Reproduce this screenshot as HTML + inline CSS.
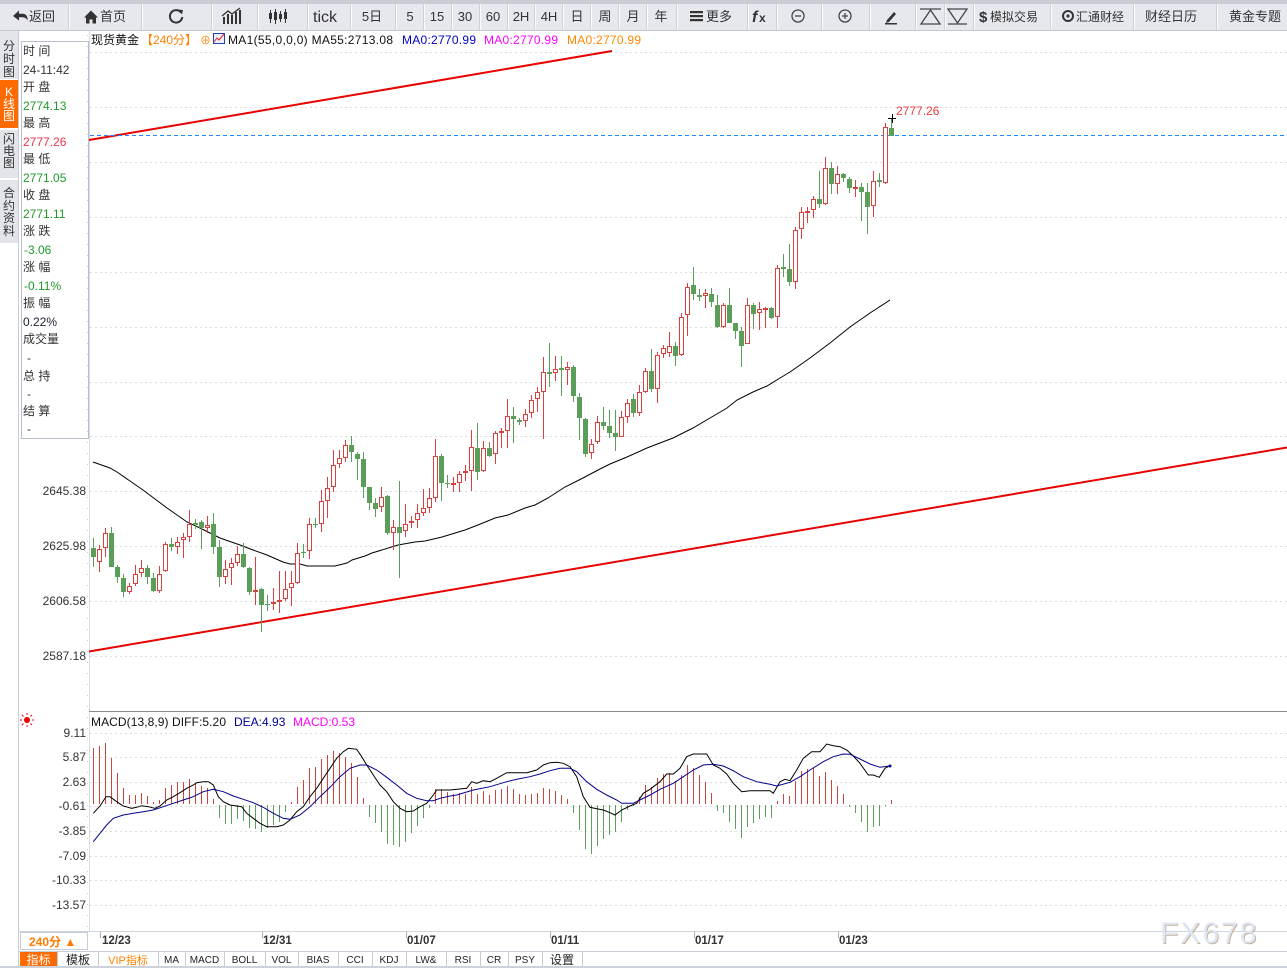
<!DOCTYPE html>
<html><head><meta charset="utf-8"><style>
html,body{margin:0;padding:0;background:#fff;width:1287px;height:968px;overflow:hidden}
svg{display:block}
text{font-family:"Liberation Sans","Noto Sans CJK SC",sans-serif}
</style></head><body>
<svg width="1287" height="968" viewBox="0 0 1287 968" xmlns="http://www.w3.org/2000/svg">
<!-- toolbar -->
<rect x="0" y="0" width="1287" height="31" fill="#e7e8ee"/>
<rect x="0" y="0" width="1287" height="4" fill="#c9ccd2"/>
<rect x="0" y="30" width="1287" height="1" fill="#c4c8d0"/>
<g stroke="#fbfbfd" stroke-width="1">
<path d="M69.5 4V30M142.5 4V30M212.5 4V30M258.5 4V30M308.5 4V30M351.5 4V30M396.5 4V30M424.5 4V30M452.5 4V30M480.5 4V30M508.5 4V30M535.5 4V30M563.5 4V30M591.5 4V30M619.5 4V30M647.5 4V30M677.5 4V30M748.5 4V30M777.5 4V30M822.5 4V30M870.5 4V30M916.5 4V30M945.5 4V30M974.5 4V30M1051.5 4V30M1134.5 4V30M1217.5 4V30"/>
</g>
<g stroke="#cdd0d8" stroke-width="1">
<path d="M68.5 4V30M141.5 4V30M211.5 4V30M257.5 4V30M307.5 4V30M350.5 4V30M395.5 4V30M423.5 4V30M451.5 4V30M479.5 4V30M507.5 4V30M534.5 4V30M562.5 4V30M590.5 4V30M618.5 4V30M646.5 4V30M676.5 4V30M747.5 4V30M776.5 4V30M821.5 4V30M869.5 4V30M915.5 4V30M944.5 4V30M973.5 4V30M1050.5 4V30M1133.5 4V30M1216.5 4V30"/>
</g>
<g fill="#333">
<path d="M13 16l6-5.5v3.2h3.5c3 0 5 2 5 5.3v1.5c-1-2-2.8-3.2-5-3.2h-3.5v3.2z"/>
<path d="M84 17.5l7-7 7 7h-2v6h-3.5v-4h-3v4H86v-6z"/>
</g>
<g font-size="13" fill="#333">
<text x="29" y="21">返回</text>
<text x="100" y="21">首页</text>
</g>
<g fill="none" stroke="#333" stroke-width="2">
<path d="M181 12.5a6.2 6.2 0 1 0 1.3 4.5"/>
</g>
<path d="M178 9.5l5 0.5-1 4.5z" fill="#333"/>
<g fill="#333">
<rect x="223" y="17" width="2" height="7"/><rect x="227" y="14" width="2" height="10"/><rect x="231" y="15" width="2" height="9"/><rect x="235" y="12" width="2" height="12"/><rect x="239" y="10" width="2" height="14"/>
</g>
<path d="M222 16l6-5 4 3 8-6" stroke="#333" stroke-width="1.3" fill="none"/>
<g stroke="#333" stroke-width="1"><path d="M270.5 10V23M275.5 9V24M280.5 11V22M285.5 9V23"/></g>
<g fill="#333"><rect x="269" y="13" width="3" height="6"/><rect x="274" y="12" width="3" height="8"/><rect x="279" y="14" width="3" height="5"/><rect x="284" y="12" width="3" height="7"/></g>
<g font-size="13" fill="#333" text-anchor="middle">
<text x="325" y="22" font-size="16">tick</text>
<text x="372" y="21">5日</text>
<text x="410" y="21">5</text>
<text x="437" y="21">15</text>
<text x="465" y="21">30</text>
<text x="493" y="21">60</text>
<text x="521" y="21">2H</text>
<text x="549" y="21">4H</text>
<text x="577" y="21">日</text>
<text x="605" y="21">周</text>
<text x="633" y="21">月</text>
<text x="661" y="21">年</text>
<text x="719" y="21">更多</text>
<text x="1171" y="21">财经日历</text>
<text x="1255" y="21">黄金专题</text>
</g>
<g fill="#333"><rect x="690" y="11" width="13" height="2.2"/><rect x="690" y="15" width="13" height="2.2"/><rect x="690" y="19" width="13" height="2.2"/></g>
<text x="752" y="22" font-size="16" font-style="italic" font-weight="bold" fill="#333" font-family="'Liberation Serif',serif">f</text>
<text x="759" y="22" font-size="12" font-weight="bold" fill="#333">x</text>
<g fill="none" stroke="#444" stroke-width="1.3">
<circle cx="798" cy="16" r="6"/><path d="M795 16h6"/>
<circle cx="845" cy="16" r="6"/><path d="M842 16h6M845 13v6"/>
<path d="M920 9h21M921 24h19l-9.5-14z"/>
<path d="M948 9h19l-9.5 14zM948 24h19"/>
</g>
<path d="M887 20l7-8 2 2-7 8-3 1z" fill="#333"/>
<rect x="885" y="23" width="12" height="1.5" fill="#333"/>
<text x="979" y="22" font-size="15" font-weight="bold" fill="#333">$</text>
<text x="990" y="21" font-size="12" fill="#333">模拟交易</text>
<circle cx="1068" cy="16" r="5" fill="none" stroke="#333" stroke-width="2"/>
<circle cx="1068" cy="16" r="1.6" fill="#333"/>
<text x="1076" y="21" font-size="12" fill="#333">汇通财经</text>

<!-- left sidebar -->
<rect x="0" y="31" width="18" height="48" fill="#e3e5ea"/>
<rect x="0" y="80" width="18" height="48" fill="#ff6a00"/>
<rect x="0" y="130" width="18" height="48" fill="#e3e5ea"/>
<rect x="0" y="180" width="18" height="63" fill="#e3e5ea"/>
<rect x="18" y="31" width="1" height="937" fill="#c8ccd4"/>
<g font-size="12" fill="#333" text-anchor="middle">
<text x="9" y="50">分</text><text x="9" y="63">时</text><text x="9" y="76">图</text>
<text x="9" y="96" fill="#fff" font-family="'Liberation Serif',serif">K</text><text x="9" y="108" fill="#fff">线</text><text x="9" y="120" fill="#fff">图</text>
<text x="9" y="143">闪</text><text x="9" y="155">电</text><text x="9" y="167">图</text>
<text x="9" y="197">合</text><text x="9" y="210">约</text><text x="9" y="222">资</text><text x="9" y="235">料</text>
</g>

<!-- info panel -->
<rect x="21.5" y="41.5" width="67" height="397" fill="#fff" stroke="#b8c0cc"/>
<g font-size="12" fill="#333">
<text x="23" y="55">时 间</text>
<text x="23" y="74">24-11:42</text>
<text x="23" y="91">开 盘</text>
<text x="23" y="110" fill="#1f9a2a">2774.13</text>
<text x="23" y="127">最 高</text>
<text x="23" y="146" fill="#e8344a">2777.26</text>
<text x="23" y="163">最 低</text>
<text x="23" y="182" fill="#1f9a2a">2771.05</text>
<text x="23" y="199">收 盘</text>
<text x="23" y="218" fill="#1f9a2a">2771.11</text>
<text x="23" y="235">涨 跌</text>
<text x="24" y="254" fill="#1f9a2a">-3.06</text>
<text x="23" y="271">涨 幅</text>
<text x="24" y="290" fill="#1f9a2a">-0.11%</text>
<text x="23" y="307">振 幅</text>
<text x="23" y="326" fill="#223">0.22%</text>
<text x="23" y="343">成交量</text>
<text x="27" y="362">-</text>
<text x="23" y="380">总 持</text>
<text x="27" y="398">-</text>
<text x="23" y="415">结 算</text>
<text x="27" y="433">-</text>
</g>

<!-- header -->
<g font-size="12">
<text x="91" y="44" fill="#111">现货黄金</text>
<text x="141" y="44" fill="#ff8000">【240分】</text>
<text x="200" y="44" fill="#ff8000" font-size="11">⊕</text>
<rect x="213.5" y="33.5" width="11" height="10" fill="#eef" stroke="#2244aa"/>
<path d="M214 42l3-4 2 2 5-6" stroke="#d22" fill="none"/>
<text x="228" y="44" fill="#111" textLength="165">MA1(55,0,0,0) MA55:2713.08</text>
<text x="402" y="44" fill="#0000cc" textLength="74">MA0:2770.99</text>
<text x="484" y="44" fill="#ff00ff" textLength="74">MA0:2770.99</text>
<text x="567" y="44" fill="#ff8800" textLength="74">MA0:2770.99</text>
</g>

<!-- main axis and grid -->
<rect x="89" y="31" width="1" height="900" fill="#d6dae2"/>
<path d="M87.5 35V930" stroke="#c8ccd4" stroke-dasharray="1 10"/>
<g stroke="#dcdcdc" stroke-dasharray="2 3" stroke-width="1">
<path d="M90 52.5H1287M90 107.5H1287M90 162.5H1287M90 217.5H1287M90 272.5H1287M90 327.5H1287M90 382.5H1287M90 436.5H1287M90 491.5H1287M90 546.5H1287M90 601.5H1287M90 656.5H1287"/>
<path d="M90 733.5H1287M90 757.5H1287M90 782.5H1287M90 806.5H1287M90 831.5H1287M90 856.5H1287M90 880.5H1287M90 905.5H1287"/>
</g>
<g font-size="12" fill="#333" text-anchor="end">
<text x="86" y="495">2645.38</text>
<text x="86" y="550">2625.98</text>
<text x="86" y="605">2606.58</text>
<text x="86" y="660">2587.18</text>
</g>

<!-- trend lines -->
<path d="M89 140L612 51" stroke="#e80000" stroke-width="2" fill="none"/>
<path d="M89 651.5L1287 447.5" stroke="#e80000" stroke-width="2" fill="none"/>
<!-- price line -->
<path d="M90 135.5H1287" stroke="#1a8cff" stroke-width="1" stroke-dasharray="4 3"/>

<!-- MA55 -->
<polyline fill="none" stroke="#000" stroke-width="1" points="93,462 110,468 117,472 143,490 167,508 187,522 200,528 220,538 240,545 253,550 267,555 283,562 290,564 300,564 307,566 335,566 347,563 352,560 365,556 372,553 398,545 415,542 425,541 442,537 465,530 478,525 495,518 508,515 525,508 535,505 548,498 565,487 583,478 600,469 610,464 627,457 647,448 673,438 693,428 710,418 727,408 737,400 753,392 767,386 780,378 790,372 810,358 830,343 850,327 870,313 890,300"/>

<!-- candles -->
<path stroke="#5a9e5a" stroke-width="1" fill="none" d="M93.5 538V567M111.5 527V567M117.5 565V583M123.5 574V597M147.5 565V584M153.5 573V592M171.5 538V551M195.5 519V529M201.5 520V549M213.5 513V554M219.5 540V587M243.5 543V568M249.5 567V595M261.5 588V632M267.5 595V611M303.5 544V558M315.5 518V528M351.5 436V462M357.5 452V480M363.5 452V498M369.5 487V510M375.5 498V517M387.5 495V535M399.5 481V578M441.5 454V501M447.5 475V488M477.5 423V480M489.5 442V457M513.5 407V443M519.5 418V425M549.5 343V387M561.5 356V396M573.5 365V402M579.5 393V440M585.5 418V457M603.5 407V430M609.5 410V438M615.5 410V451M633.5 394V417M651.5 349V392M675.5 342V366M693.5 267V300M699.5 289V301M711.5 288V307M717.5 295V328M729.5 288V323M735.5 323V339M741.5 327V367M753.5 303V329M771.5 307V319M783.5 254V277M789.5 244V286M819.5 171V208M831.5 162V194M843.5 173V182M849.5 177V193M861.5 183V221M867.5 183V234M879.5 173V187M891.5 118V136"/>
<path fill="#5a9e5a" d="M91 548h5v9h-5zM109 533h5v34h-5zM115 567h5v10h-5zM121 578h5v14h-5zM145 568h5v9h-5zM151 578h5v13h-5zM169 544h5v3h-5zM193 523h5v2h-5zM199 522h5v6h-5zM211 524h5v23h-5zM217 547h5v30h-5zM241 554h5v13h-5zM247 568h5v24h-5zM259 589h5v16h-5zM265 604h5v1h-5zM301 552h5v1h-5zM313 524h5v1h-5zM349 445h5v7h-5zM355 454h5v5h-5zM361 459h5v28h-5zM367 487h5v16h-5zM373 503h5v6h-5zM385 496h5v37h-5zM397 527h5v6h-5zM439 456h5v27h-5zM445 483h5v1h-5zM475 448h5v24h-5zM487 448h5v8h-5zM511 416h5v3h-5zM517 420h5v2h-5zM547 372h5v2h-5zM559 368h5v2h-5zM571 367h5v29h-5zM577 397h5v21h-5zM583 419h5v35h-5zM601 422h5v4h-5zM607 426h5v7h-5zM613 433h5v4h-5zM631 399h5v14h-5zM649 371h5v18h-5zM673 346h5v10h-5zM691 285h5v9h-5zM697 295h5v2h-5zM709 294h5v8h-5zM715 305h5v22h-5zM727 305h5v18h-5zM733 323h5v8h-5zM739 331h5v15h-5zM751 305h5v9h-5zM769 308h5v10h-5zM781 267h5v2h-5zM787 269h5v13h-5zM817 199h5v5h-5zM829 168h5v16h-5zM841 174h5v4h-5zM847 179h5v9h-5zM859 187h5v5h-5zM865 192h5v15h-5zM877 180h5v2h-5zM889 128h5v8h-5z"/>
<path stroke="#d94040" stroke-width="1" fill="none" d="M99.5 545V572M105.5 528V557M129.5 583V594M135.5 565V586M141.5 560V577M159.5 566V593M165.5 542V572M177.5 537V554M183.5 533V558M189.5 510V542M207.5 516V533M225.5 560V584M231.5 558V585M237.5 546V566M255.5 557V605M273.5 588V610M279.5 571V613M285.5 571V601M291.5 571V606M297.5 543V584M309.5 518V559M321.5 490V532M327.5 477V518M333.5 450V492M339.5 450V468M345.5 440V462M381.5 487V512M393.5 520V550M405.5 504V537M411.5 516V528M417.5 504V528M423.5 489V516M429.5 488V513M435.5 439V502M453.5 477V492M459.5 471V492M465.5 465V481M471.5 430V491M483.5 441V472M495.5 431V464M501.5 428V448M507.5 399V448M525.5 409V427M531.5 395V418M537.5 387V412M543.5 357V439M555.5 356V381M567.5 362V385M591.5 439V459M597.5 416V444M621.5 411V437M627.5 399V423M639.5 385V416M645.5 368V393M657.5 352V403M663.5 345V358M669.5 332V357M681.5 313V356M687.5 283V336M705.5 289V308M723.5 303V328M747.5 298V344M759.5 302V330M765.5 307V328M777.5 265V328M795.5 227V289M801.5 207V239M807.5 207V223M813.5 196V218M825.5 157V205M837.5 166V194M855.5 180V197M873.5 171V217M885.5 123V184"/>
<path stroke="#d94040" stroke-width="1" fill="#fff" d="M97.5 549.5h4v12h-4zM103.5 533.5h4v14h-4zM127.5 586.5h4v5h-4zM133.5 574.5h4v9h-4zM139.5 568.5h4v4h-4zM157.5 574.5h4v16h-4zM163.5 544.5h4v26h-4zM175.5 542.5h4v4h-4zM181.5 537.5h4v2h-4zM187.5 524.5h4v12h-4zM205.5 525.5h4v2h-4zM223.5 569.5h4v7h-4zM229.5 563.5h4v4h-4zM235.5 554.5h4v8h-4zM283.5 589.5h4v9h-4zM289.5 583.5h4v4h-4zM295.5 553.5h4v29h-4zM307.5 524.5h4v26h-4zM319.5 501.5h4v22h-4zM325.5 488.5h4v12h-4zM331.5 465.5h4v21h-4zM337.5 458.5h4v5h-4zM343.5 445.5h4v12h-4zM379.5 497.5h4v9h-4zM391.5 527.5h4v5h-4zM403.5 524.5h4v6h-4zM415.5 513.5h4v6h-4zM421.5 508.5h4v4h-4zM427.5 498.5h4v9h-4zM433.5 456.5h4v41h-4zM457.5 474.5h4v8h-4zM469.5 447.5h4v23h-4zM481.5 448.5h4v22h-4zM493.5 433.5h4v20h-4zM505.5 416.5h4v14h-4zM523.5 414.5h4v6h-4zM529.5 400.5h4v12h-4zM535.5 392.5h4v6h-4zM541.5 372.5h4v19h-4zM553.5 369.5h4v3h-4zM565.5 367.5h4v2h-4zM589.5 444.5h4v8h-4zM595.5 422.5h4v19h-4zM619.5 417.5h4v19h-4zM625.5 403.5h4v13h-4zM637.5 392.5h4v20h-4zM643.5 371.5h4v20h-4zM655.5 355.5h4v33h-4zM661.5 348.5h4v5h-4zM667.5 346.5h4v6h-4zM679.5 317.5h4v37h-4zM685.5 287.5h4v27h-4zM703.5 293.5h4v2h-4zM721.5 305.5h4v21h-4zM745.5 305.5h4v38h-4zM757.5 309.5h4v3h-4zM775.5 268.5h4v48h-4zM793.5 230.5h4v51h-4zM799.5 212.5h4v16h-4zM811.5 199.5h4v10h-4zM823.5 168.5h4v35h-4zM835.5 174.5h4v9h-4zM871.5 181.5h4v24h-4zM883.5 127.5h4v55h-4z"/>
<path fill="#d94040" d="M253 590h5v2h-5zM271 602h5v2h-5zM277 600h5v2h-5zM409 521h5v2h-5zM451 483h5v2h-5zM463 471h5v2h-5zM499 431h5v2h-5zM763 308h5v2h-5zM805 211h5v2h-5zM853 187h5v2h-5z"/>
<!-- high marker -->
<path d="M888 118.5h8M892.5 114v9" stroke="#000" stroke-width="1"/>
<text x="896" y="115" font-size="12" fill="#e04040">2777.26</text>

<!-- MACD panel -->
<rect x="89" y="711" width="1198" height="1" fill="#8a8a8a"/>
<g stroke="#e00" stroke-width="1" fill="none">
<circle cx="27" cy="720" r="2.5" fill="#e00"/>
<path d="M27 713v2M27 725v2M20 720h2M32 720h2M22 715l1.5 1.5M32 715l-1.5 1.5M22 725l1.5-1.5M32 725l-1.5-1.5"/>
</g>
<g font-size="12">
<text x="91" y="726" fill="#111" textLength="135">MACD(13,8,9) DIFF:5.20</text>
<text x="234" y="726" fill="#000099">DEA:4.93</text>
<text x="293" y="726" fill="#ff00ff">MACD:0.53</text>
</g>
<g font-size="12" fill="#333" text-anchor="end">
<text x="86" y="737">9.11</text>
<text x="86" y="761">5.87</text>
<text x="86" y="786">2.63</text>
<text x="86" y="810">-0.61</text>
<text x="86" y="835">-3.85</text>
<text x="86" y="860">-7.09</text>
<text x="86" y="884">-10.33</text>
<text x="86" y="909">-13.57</text>
</g>
<path stroke="#c9463f" stroke-width="1" fill="none" d="M93.5 804V748M99.5 804V746M105.5 804V743M111.5 804V758M117.5 804V773M123.5 804V788M129.5 804V795M135.5 804V795M141.5 804V793M147.5 804V796M153.5 804V802M159.5 804V800M165.5 804V788M171.5 804V785M177.5 804V782M183.5 804V782M189.5 804V779M195.5 804V783M201.5 804V786M207.5 804V788M213.5 804V799M291.5 804V802M297.5 804V787M303.5 804V780M309.5 804V768M315.5 804V767M321.5 804V759M327.5 804V755M333.5 804V751M339.5 804V753M345.5 804V757M351.5 804V763M357.5 804V777M363.5 804V798M435.5 804V789M441.5 804V789M447.5 804V792M453.5 804V794M459.5 804V793M465.5 804V794M471.5 804V787M477.5 804V794M483.5 804V791M489.5 804V795M495.5 804V790M501.5 804V789M507.5 804V786M513.5 804V789M519.5 804V794M525.5 804V795M531.5 804V794M537.5 804V793M543.5 804V788M549.5 804V789M555.5 804V791M561.5 804V795M567.5 804V799M639.5 804V797M645.5 804V785M651.5 804V787M657.5 804V778M663.5 804V774M669.5 804V773M675.5 804V781M681.5 804V775M687.5 804V765M693.5 804V768M699.5 804V775M705.5 804V782M711.5 804V793M777.5 804V801M783.5 804V794M789.5 804V796M795.5 804V781M801.5 804V771M807.5 804V769M813.5 804V768M819.5 804V776M825.5 804V772M831.5 804V780M837.5 804V786M843.5 804V794M891.5 804V800"/>
<path stroke="#5e9e5e" stroke-width="1" fill="none" d="M219.5 805V818M225.5 805V824M231.5 805V824M237.5 805V819M243.5 805V821M249.5 805V828M255.5 805V829M261.5 805V832M267.5 805V828M273.5 805V825M279.5 805V822M285.5 805V812M369.5 805V817M375.5 805V823M381.5 805V832M387.5 805V844M393.5 805V845M399.5 805V847M405.5 805V842M411.5 805V833M417.5 805V826M423.5 805V818M429.5 805V808M573.5 805V813M579.5 805V830M585.5 805V849M591.5 805V854M597.5 805V846M603.5 805V839M609.5 805V835M615.5 805V832M621.5 805V822M627.5 805V810M633.5 805V806M717.5 805V811M723.5 805V813M729.5 805V822M735.5 805V829M741.5 805V838M747.5 805V827M753.5 805V823M759.5 805V819M765.5 805V817M771.5 805V818M849.5 805V807M855.5 805V813M861.5 805V822M867.5 805V832M873.5 805V827M879.5 805V826M885.5 805V806"/>
<polyline fill="none" stroke="#000" stroke-width="1" points="93.3,813.3 100,806 106,796.7 110,796.7 116.7,801.7 123.3,806 131.7,808.3 136.7,807.3 141.7,805.7 148.3,806.7 155,808.3 160,806 166.7,800 173.3,796.7 180,792.7 186.7,788.3 193.3,785 196.7,782.7 203.3,781.7 208.3,781.7 213.3,785 218.3,796.7 223.3,801.7 230,805 236.7,806 241.7,806.7 246.7,813.3 253.3,818.3 260,823.3 266.7,826.7 276.7,826.7 283.3,825 290,820 296.7,811.7 303.3,806.7 310,796.7 316.7,788.3 323.3,778.3 330,768.3 336.7,758.3 343.3,751.7 348.3,748.3 356.7,749.3 361.7,756.7 366.7,765 373.3,775 380,785 386.7,791.7 393.3,801.7 400,808.3 406.7,811.7 413.3,811 420,806.7 426.7,803.3 433.3,795 436.7,790 450,790 466.7,788.3 471.7,781.7 476.7,783.3 483.3,780.7 490,781.7 496.7,778.3 506.7,772.7 526.7,772.7 536.7,770 543.3,765 550,762.7 556.7,762.3 563.3,763.3 570,766.7 576.7,776.7 583.3,796.7 590,807.3 596.7,808.7 603.3,810 610,812.7 615,815 621.7,810 630,806 636.7,803.3 643.3,793.3 650,789.3 660,781.7 666.7,774 673.3,774 680,768.3 686.7,756.7 693.3,754 706.7,754 713.3,765 720,768.3 726.7,774 733.3,783.3 741.7,791.7 750,790.7 770,790.7 773.3,793.3 780,781.7 785,779.3 790,780.7 796.7,770 803.3,758.3 811.7,751.7 820,751.7 826.7,744 833.3,745.7 840,746.7 846.7,750 853.3,756 860,763.3 868.3,775 873.3,775 879.3,777.3 885,768.3 890,765.7"/>
<polyline fill="none" stroke="#00008b" stroke-width="1" points="93.3,841.7 100,833.3 106.7,825 113.3,818.3 123.3,815 133.3,813.3 143.3,811.7 153.3,810 163.3,806.7 173.3,803.3 183.3,800 193.3,796.7 203.3,791.7 213.3,789.3 223.3,791.7 233.3,796 243.3,799.3 253.3,802.7 263.3,807.3 273.3,813.3 283.3,818.3 290,819.3 300,815 310,806.7 320,796.7 330,787.3 340,776.7 350,768.3 360,765 366.7,765 376.7,770 386.7,777.3 396.7,785 406.7,793.3 416.7,798.3 426.7,800.7 433.3,800.7 440,798.3 450,796 456.7,795 473.3,790 490,786.7 506.7,781.7 516.7,779.3 530,776.7 540,774 550,770.7 560,768.3 570,768.3 576.7,771.7 586.7,781.7 596.7,789.3 606.7,795 616.7,800 621.7,803.3 633.3,803.3 640,800 650,795 660,789.3 673.3,783.3 683.3,776.7 693.3,770 703.3,765 713.3,764.3 723.3,766 733.3,770.7 743.3,776.7 756.7,781.7 770,784.3 776.7,786 790,782.3 800,776.7 810,770 823.3,761.7 833.3,756.7 843.3,754 850,754.3 860,759 870,764 880,767.3 890,766"/>
<circle cx="890" cy="766" r="1.5" fill="#00008b"/>

<!-- time axis -->
<rect x="19" y="931" width="1268" height="1" fill="#d0d4dc"/>
<rect x="20.5" y="932.5" width="67" height="17" fill="#fff" stroke="#c8ccd4"/>
<text x="29" y="946" font-size="12" font-weight="bold" fill="#ff7a00">240分 ▲</text>
<path stroke="#aab" d="M100.5 932V938M262.5 932V938M406.5 932V938M550.5 932V938M694.5 932V938M838.5 932V938"/>
<g font-size="11.5" font-weight="bold" fill="#333">
<text x="102" y="944">12/23</text>
<text x="263" y="944">12/31</text>
<text x="407" y="944">01/07</text>
<text x="551" y="944">01/11</text>
<text x="695" y="944">01/17</text>
<text x="839" y="944">01/23</text>
</g>
<!-- watermark -->
<text x="1161" y="944" font-size="30" letter-spacing="2" fill="#c9b39c">FX678</text>
<text x="1160" y="943" font-size="30" letter-spacing="2" fill="#dde7f5">FX678</text>

<!-- bottom tabs -->
<rect x="19" y="951" width="1268" height="1" fill="#c8ccd4"/>
<rect x="0" y="966" width="1287" height="2" fill="#ccd1da"/>
<rect x="20" y="952" width="37" height="14" fill="#ff6a00"/>
<path stroke="#c8ccd4" d="M57.5 952V966M98.5 952V966M158.5 952V966M185.5 952V966M224.5 952V966M265.5 952V966M298.5 952V966M338.5 952V966M372.5 952V966M406.5 952V966M446.5 952V966M480.5 952V966M508.5 952V966M542.5 952V966M582.5 952V966"/>
<g font-size="12" text-anchor="middle" fill="#222">
<text x="38.5" y="964" fill="#fff">指标</text>
<text x="78" y="964">模板</text>
<text x="128" y="964" fill="#ff8000" font-family="'Liberation Mono','Noto Sans CJK SC',monospace" font-size="11">VIP指标</text>
<text x="562" y="964">设置</text>
</g>
<g font-size="10" text-anchor="middle" fill="#222" font-family="'Liberation Mono',monospace">
<text x="171.5" y="963">MA</text>
<text x="204.5" y="963">MACD</text>
<text x="244.5" y="963">BOLL</text>
<text x="281.5" y="963">VOL</text>
<text x="318" y="963">BIAS</text>
<text x="355" y="963">CCI</text>
<text x="389" y="963">KDJ</text>
<text x="426" y="963">LW&amp;</text>
<text x="463" y="963">RSI</text>
<text x="494" y="963">CR</text>
<text x="525" y="963">PSY</text>
</g>
</svg>
</body></html>
